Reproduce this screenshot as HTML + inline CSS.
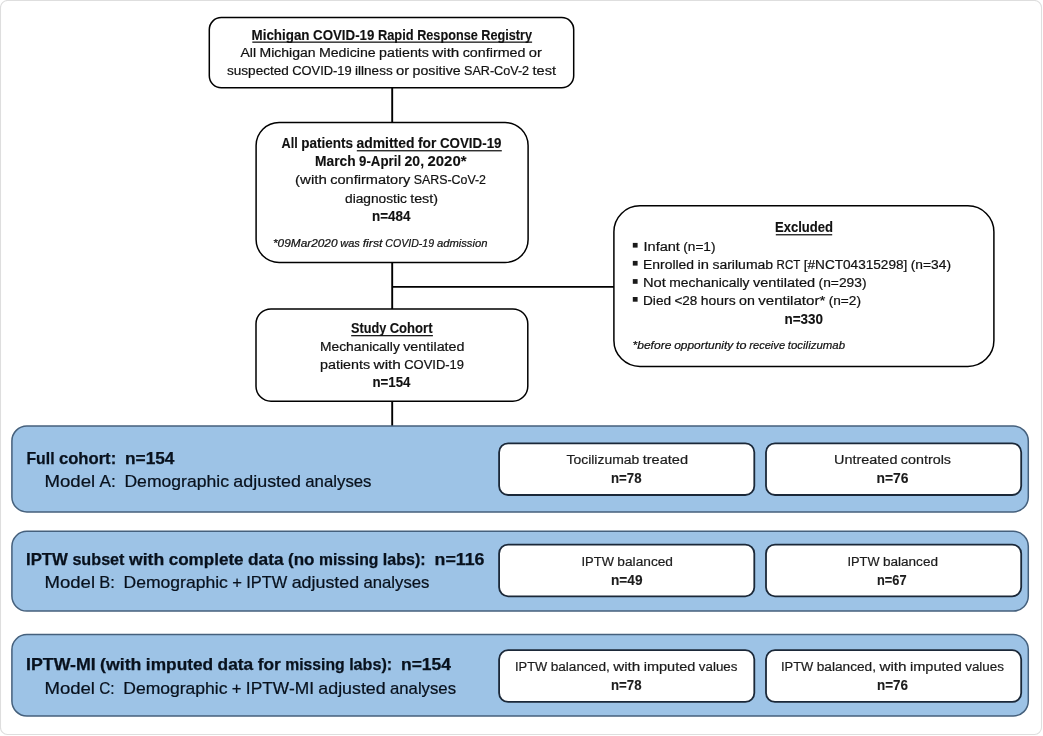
<!DOCTYPE html>
<html><head><meta charset="utf-8"><title>Flow diagram</title>
<style>
html,body{margin:0;padding:0;background:#fff;width:1043px;height:736px;overflow:hidden}
svg{display:block;will-change:transform;font-family:"Liberation Sans",sans-serif}
</style></head><body>
<svg width="1043" height="736" viewBox="0 0 1043 736">
<rect x="0.5" y="0.5" width="1041" height="734" rx="7" fill="#fff" stroke="#dedede" stroke-width="1.1"/>
<g stroke="#000" stroke-width="1.9" fill="none">
<line x1="392.2" y1="88" x2="392.2" y2="122.5"/>
<line x1="392.2" y1="262.5" x2="392.2" y2="309"/>
<line x1="392.2" y1="286.9" x2="614" y2="286.9" stroke-width="1.6"/>
<line x1="392.2" y1="401" x2="392.2" y2="426"/>
</g>
<g stroke="#000" stroke-width="1.5" fill="#fff">
<rect x="209.3" y="17.6" width="364.4" height="70.2" rx="12"/>
<rect x="256.1" y="122.5" width="272" height="140" rx="23"/>
<rect x="613.9" y="205.8" width="380" height="160.6" rx="26"/>
<rect x="256" y="308.9" width="271.8" height="92.3" rx="15"/>
</g>
<g stroke="#45607c" stroke-width="1.5" fill="#9dc3e6">
<rect x="11.9" y="426" width="1016.4" height="85.9" rx="15"/>
<rect x="11.9" y="531.3" width="1016.4" height="79.8" rx="15"/>
<rect x="11.9" y="634.6" width="1016.4" height="81.4" rx="15"/>
</g>
<g stroke="#1b2838" stroke-width="1.8" fill="#fff">
<rect x="499.1" y="443.3" width="255.2" height="51.7" rx="9"/>
<rect x="766" y="443.3" width="255.2" height="51.7" rx="9"/>
<rect x="499.1" y="544.6" width="255.2" height="51.7" rx="9"/>
<rect x="766" y="544.6" width="255.2" height="51.7" rx="9"/>
<rect x="499.1" y="650.2" width="255.2" height="51.7" rx="9"/>
<rect x="766" y="650.2" width="255.2" height="51.7" rx="9"/>
</g>
<g fill="#1a1a1a">
<rect x="252.3" y="41.5" width="279.8" height="1.3"/>
<rect x="356.8" y="150.1" width="145" height="1.3"/>
<rect x="775.8" y="234.1" width="56.4" height="1.3"/>
<rect x="351.2" y="335" width="81.7" height="1.3"/>
<rect x="632.8" y="242.9" width="4.8" height="4.7"/>
<rect x="632.8" y="260.9" width="4.8" height="4.7"/>
<rect x="632.8" y="279.1" width="4.8" height="4.7"/>
<rect x="632.8" y="297" width="4.8" height="4.7"/>
</g>
<text x="251.50" y="39.50" font-size="14.1" font-weight="bold" font-style="normal" fill="#111" stroke="#111" stroke-width="0.12" textLength="58.05" lengthAdjust="spacingAndGlyphs">Michigan</text>
<text x="313.06" y="39.50" font-size="14.1" font-weight="bold" font-style="normal" fill="#111" stroke="#111" stroke-width="0.12" textLength="61.34" lengthAdjust="spacingAndGlyphs">COVID-19</text>
<text x="377.91" y="39.50" font-size="14.1" font-weight="bold" font-style="normal" fill="#111" stroke="#111" stroke-width="0.12" textLength="35.76" lengthAdjust="spacingAndGlyphs">Rapid</text>
<text x="417.18" y="39.50" font-size="14.1" font-weight="bold" font-style="normal" fill="#111" stroke="#111" stroke-width="0.12" textLength="60.55" lengthAdjust="spacingAndGlyphs">Response</text>
<text x="481.24" y="39.50" font-size="14.1" font-weight="bold" font-style="normal" fill="#111" stroke="#111" stroke-width="0.12" textLength="50.76" lengthAdjust="spacingAndGlyphs">Registry</text>
<text x="240.50" y="57.20" font-size="13.7" font-weight="normal" font-style="normal" fill="#111" stroke="#111" stroke-width="0.22" textLength="15.57" lengthAdjust="spacingAndGlyphs">All</text>
<text x="259.46" y="57.20" font-size="13.7" font-weight="normal" font-style="normal" fill="#111" stroke="#111" stroke-width="0.22" textLength="56.08" lengthAdjust="spacingAndGlyphs">Michigan</text>
<text x="318.93" y="57.20" font-size="13.7" font-weight="normal" font-style="normal" fill="#111" stroke="#111" stroke-width="0.22" textLength="56.76" lengthAdjust="spacingAndGlyphs">Medicine</text>
<text x="379.08" y="57.20" font-size="13.7" font-weight="normal" font-style="normal" fill="#111" stroke="#111" stroke-width="0.22" textLength="49.78" lengthAdjust="spacingAndGlyphs">patients</text>
<text x="432.26" y="57.20" font-size="13.7" font-weight="normal" font-style="normal" fill="#111" stroke="#111" stroke-width="0.22" textLength="27.08" lengthAdjust="spacingAndGlyphs">with</text>
<text x="462.73" y="57.20" font-size="13.7" font-weight="normal" font-style="normal" fill="#111" stroke="#111" stroke-width="0.22" textLength="62.73" lengthAdjust="spacingAndGlyphs">confirmed</text>
<text x="528.86" y="57.20" font-size="13.7" font-weight="normal" font-style="normal" fill="#111" stroke="#111" stroke-width="0.22" textLength="13.14" lengthAdjust="spacingAndGlyphs">or</text>
<text x="227.00" y="75.20" font-size="13.7" font-weight="normal" font-style="normal" fill="#111" stroke="#111" stroke-width="0.22" textLength="61.87" lengthAdjust="spacingAndGlyphs">suspected</text>
<text x="292.28" y="75.20" font-size="13.7" font-weight="normal" font-style="normal" fill="#111" stroke="#111" stroke-width="0.22" textLength="59.44" lengthAdjust="spacingAndGlyphs">COVID-19</text>
<text x="355.12" y="75.20" font-size="13.7" font-weight="normal" font-style="normal" fill="#111" stroke="#111" stroke-width="0.22" textLength="37.53" lengthAdjust="spacingAndGlyphs">illness</text>
<text x="396.05" y="75.20" font-size="13.7" font-weight="normal" font-style="normal" fill="#111" stroke="#111" stroke-width="0.22" textLength="13.18" lengthAdjust="spacingAndGlyphs">or</text>
<text x="412.64" y="75.20" font-size="13.7" font-weight="normal" font-style="normal" fill="#111" stroke="#111" stroke-width="0.22" textLength="47.96" lengthAdjust="spacingAndGlyphs">positive</text>
<text x="464.00" y="75.20" font-size="13.7" font-weight="normal" font-style="normal" fill="#111" stroke="#111" stroke-width="0.22" textLength="65.14" lengthAdjust="spacingAndGlyphs">SAR-CoV-2</text>
<text x="532.54" y="75.20" font-size="13.7" font-weight="normal" font-style="normal" fill="#111" stroke="#111" stroke-width="0.22" textLength="23.46" lengthAdjust="spacingAndGlyphs">test</text>
<text x="281.50" y="147.90" font-size="14.1" font-weight="bold" font-style="normal" fill="#111" stroke="#111" stroke-width="0.12" textLength="16.17" lengthAdjust="spacingAndGlyphs">All</text>
<text x="301.19" y="147.90" font-size="14.1" font-weight="bold" font-style="normal" fill="#111" stroke="#111" stroke-width="0.12" textLength="51.71" lengthAdjust="spacingAndGlyphs">patients</text>
<text x="356.43" y="147.90" font-size="14.1" font-weight="bold" font-style="normal" fill="#111" stroke="#111" stroke-width="0.12" textLength="58.06" lengthAdjust="spacingAndGlyphs">admitted</text>
<text x="418.01" y="147.90" font-size="14.1" font-weight="bold" font-style="normal" fill="#111" stroke="#111" stroke-width="0.12" textLength="18.41" lengthAdjust="spacingAndGlyphs">for</text>
<text x="439.94" y="147.90" font-size="14.1" font-weight="bold" font-style="normal" fill="#111" stroke="#111" stroke-width="0.12" textLength="61.56" lengthAdjust="spacingAndGlyphs">COVID-19</text>
<text x="315.00" y="166.40" font-size="14.1" font-weight="bold" font-style="normal" fill="#111" stroke="#111" stroke-width="0.12" textLength="40.58" lengthAdjust="spacingAndGlyphs">March</text>
<text x="359.07" y="166.40" font-size="14.1" font-weight="bold" font-style="normal" fill="#111" stroke="#111" stroke-width="0.12" textLength="42.03" lengthAdjust="spacingAndGlyphs">9-April</text>
<text x="404.58" y="166.40" font-size="14.1" font-weight="bold" font-style="normal" fill="#111" stroke="#111" stroke-width="0.12" textLength="19.48" lengthAdjust="spacingAndGlyphs">20,</text>
<text x="427.55" y="166.40" font-size="14.1" font-weight="bold" font-style="normal" fill="#111" stroke="#111" stroke-width="0.12" textLength="38.95" lengthAdjust="spacingAndGlyphs">2020*</text>
<text x="295.00" y="183.90" font-size="13.7" font-weight="normal" font-style="normal" fill="#111" stroke="#111" stroke-width="0.22" textLength="31.83" lengthAdjust="spacingAndGlyphs">(with</text>
<text x="330.25" y="183.90" font-size="13.7" font-weight="normal" font-style="normal" fill="#111" stroke="#111" stroke-width="0.22" textLength="80.04" lengthAdjust="spacingAndGlyphs">confirmatory</text>
<text x="413.70" y="183.90" font-size="13.7" font-weight="normal" font-style="normal" fill="#111" stroke="#111" stroke-width="0.22" textLength="72.30" lengthAdjust="spacingAndGlyphs">SARS-CoV-2</text>
<text x="345.00" y="202.50" font-size="13.7" font-weight="normal" font-style="normal" fill="#111" stroke="#111" stroke-width="0.22" textLength="61.80" lengthAdjust="spacingAndGlyphs">diagnostic</text>
<text x="410.18" y="202.50" font-size="13.7" font-weight="normal" font-style="normal" fill="#111" stroke="#111" stroke-width="0.22" textLength="27.82" lengthAdjust="spacingAndGlyphs">test)</text>
<text x="372.00" y="220.90" font-size="14.1" font-weight="bold" font-style="normal" fill="#111" stroke="#111" stroke-width="0.12" textLength="38.50" lengthAdjust="spacingAndGlyphs">n=484</text>
<text x="273.00" y="246.70" font-size="11.5" font-weight="normal" font-style="italic" fill="#111" stroke="#111" stroke-width="0.22" textLength="64.49" lengthAdjust="spacingAndGlyphs">*09Mar2020</text>
<text x="340.28" y="246.70" font-size="11.5" font-weight="normal" font-style="italic" fill="#111" stroke="#111" stroke-width="0.22" textLength="19.58" lengthAdjust="spacingAndGlyphs">was</text>
<text x="362.65" y="246.70" font-size="11.5" font-weight="normal" font-style="italic" fill="#111" stroke="#111" stroke-width="0.22" textLength="19.88" lengthAdjust="spacingAndGlyphs">first</text>
<text x="385.32" y="246.70" font-size="11.5" font-weight="normal" font-style="italic" fill="#111" stroke="#111" stroke-width="0.22" textLength="48.78" lengthAdjust="spacingAndGlyphs">COVID-19</text>
<text x="436.89" y="246.70" font-size="11.5" font-weight="normal" font-style="italic" fill="#111" stroke="#111" stroke-width="0.22" textLength="50.61" lengthAdjust="spacingAndGlyphs">admission</text>
<text x="775.00" y="232.10" font-size="14.1" font-weight="bold" font-style="normal" fill="#111" stroke="#111" stroke-width="0.12" textLength="58.00" lengthAdjust="spacingAndGlyphs">Excluded</text>
<text x="643.50" y="250.70" font-size="13.7" font-weight="normal" font-style="normal" fill="#111" stroke="#111" stroke-width="0.22" textLength="36.38" lengthAdjust="spacingAndGlyphs">Infant</text>
<text x="683.27" y="250.70" font-size="13.7" font-weight="normal" font-style="normal" fill="#111" stroke="#111" stroke-width="0.22" textLength="32.23" lengthAdjust="spacingAndGlyphs">(n=1)</text>
<text x="643.00" y="268.50" font-size="13.7" font-weight="normal" font-style="normal" fill="#111" stroke="#111" stroke-width="0.22" textLength="51.12" lengthAdjust="spacingAndGlyphs">Enrolled</text>
<text x="697.55" y="268.50" font-size="13.7" font-weight="normal" font-style="normal" fill="#111" stroke="#111" stroke-width="0.22" textLength="11.45" lengthAdjust="spacingAndGlyphs">in</text>
<text x="712.42" y="268.50" font-size="13.7" font-weight="normal" font-style="normal" fill="#111" stroke="#111" stroke-width="0.22" textLength="60.75" lengthAdjust="spacingAndGlyphs">sarilumab</text>
<text x="776.60" y="268.50" font-size="13.7" font-weight="normal" font-style="normal" fill="#111" stroke="#111" stroke-width="0.22" textLength="23.71" lengthAdjust="spacingAndGlyphs">RCT</text>
<text x="803.73" y="268.50" font-size="13.7" font-weight="normal" font-style="normal" fill="#111" stroke="#111" stroke-width="0.22" textLength="103.62" lengthAdjust="spacingAndGlyphs">[#NCT04315298]</text>
<text x="910.78" y="268.50" font-size="13.7" font-weight="normal" font-style="normal" fill="#111" stroke="#111" stroke-width="0.22" textLength="40.22" lengthAdjust="spacingAndGlyphs">(n=34)</text>
<text x="643.00" y="286.70" font-size="13.7" font-weight="normal" font-style="normal" fill="#111" stroke="#111" stroke-width="0.22" textLength="22.86" lengthAdjust="spacingAndGlyphs">Not</text>
<text x="669.29" y="286.70" font-size="13.7" font-weight="normal" font-style="normal" fill="#111" stroke="#111" stroke-width="0.22" textLength="80.23" lengthAdjust="spacingAndGlyphs">mechanically</text>
<text x="752.94" y="286.70" font-size="13.7" font-weight="normal" font-style="normal" fill="#111" stroke="#111" stroke-width="0.22" textLength="62.24" lengthAdjust="spacingAndGlyphs">ventilated</text>
<text x="818.61" y="286.70" font-size="13.7" font-weight="normal" font-style="normal" fill="#111" stroke="#111" stroke-width="0.22" textLength="47.89" lengthAdjust="spacingAndGlyphs">(n=293)</text>
<text x="643.00" y="304.70" font-size="13.7" font-weight="normal" font-style="normal" fill="#111" stroke="#111" stroke-width="0.22" textLength="28.10" lengthAdjust="spacingAndGlyphs">Died</text>
<text x="674.50" y="304.70" font-size="13.7" font-weight="normal" font-style="normal" fill="#111" stroke="#111" stroke-width="0.22" textLength="22.87" lengthAdjust="spacingAndGlyphs">&lt;28</text>
<text x="700.77" y="304.70" font-size="13.7" font-weight="normal" font-style="normal" fill="#111" stroke="#111" stroke-width="0.22" textLength="34.87" lengthAdjust="spacingAndGlyphs">hours</text>
<text x="739.05" y="304.70" font-size="13.7" font-weight="normal" font-style="normal" fill="#111" stroke="#111" stroke-width="0.22" textLength="15.84" lengthAdjust="spacingAndGlyphs">on</text>
<text x="758.28" y="304.70" font-size="13.7" font-weight="normal" font-style="normal" fill="#111" stroke="#111" stroke-width="0.22" textLength="67.04" lengthAdjust="spacingAndGlyphs">ventilator*</text>
<text x="828.72" y="304.70" font-size="13.7" font-weight="normal" font-style="normal" fill="#111" stroke="#111" stroke-width="0.22" textLength="32.28" lengthAdjust="spacingAndGlyphs">(n=2)</text>
<text x="784.50" y="323.70" font-size="14.1" font-weight="bold" font-style="normal" fill="#111" stroke="#111" stroke-width="0.12" textLength="38.50" lengthAdjust="spacingAndGlyphs">n=330</text>
<text x="632.50" y="349.30" font-size="11.5" font-weight="normal" font-style="italic" fill="#111" stroke="#111" stroke-width="0.22" textLength="38.92" lengthAdjust="spacingAndGlyphs">*before</text>
<text x="674.18" y="349.30" font-size="11.5" font-weight="normal" font-style="italic" fill="#111" stroke="#111" stroke-width="0.22" textLength="59.09" lengthAdjust="spacingAndGlyphs">opportunity</text>
<text x="736.02" y="349.30" font-size="11.5" font-weight="normal" font-style="italic" fill="#111" stroke="#111" stroke-width="0.22" textLength="10.49" lengthAdjust="spacingAndGlyphs">to</text>
<text x="749.26" y="349.30" font-size="11.5" font-weight="normal" font-style="italic" fill="#111" stroke="#111" stroke-width="0.22" textLength="35.84" lengthAdjust="spacingAndGlyphs">receive</text>
<text x="787.85" y="349.30" font-size="11.5" font-weight="normal" font-style="italic" fill="#111" stroke="#111" stroke-width="0.22" textLength="57.15" lengthAdjust="spacingAndGlyphs">tocilizumab</text>
<text x="351.00" y="332.60" font-size="14.1" font-weight="bold" font-style="normal" fill="#111" stroke="#111" stroke-width="0.12" textLength="35.20" lengthAdjust="spacingAndGlyphs">Study</text>
<text x="389.66" y="332.60" font-size="14.1" font-weight="bold" font-style="normal" fill="#111" stroke="#111" stroke-width="0.12" textLength="42.84" lengthAdjust="spacingAndGlyphs">Cohort</text>
<text x="320.00" y="351.00" font-size="13.7" font-weight="normal" font-style="normal" fill="#111" stroke="#111" stroke-width="0.22" textLength="79.84" lengthAdjust="spacingAndGlyphs">Mechanically</text>
<text x="403.21" y="351.00" font-size="13.7" font-weight="normal" font-style="normal" fill="#111" stroke="#111" stroke-width="0.22" textLength="61.29" lengthAdjust="spacingAndGlyphs">ventilated</text>
<text x="320.00" y="368.80" font-size="13.7" font-weight="normal" font-style="normal" fill="#111" stroke="#111" stroke-width="0.22" textLength="50.16" lengthAdjust="spacingAndGlyphs">patients</text>
<text x="373.58" y="368.80" font-size="13.7" font-weight="normal" font-style="normal" fill="#111" stroke="#111" stroke-width="0.22" textLength="27.29" lengthAdjust="spacingAndGlyphs">with</text>
<text x="404.28" y="368.80" font-size="13.7" font-weight="normal" font-style="normal" fill="#111" stroke="#111" stroke-width="0.22" textLength="59.72" lengthAdjust="spacingAndGlyphs">COVID-19</text>
<text x="372.50" y="387.40" font-size="14.1" font-weight="bold" font-style="normal" fill="#111" stroke="#111" stroke-width="0.12" textLength="38.00" lengthAdjust="spacingAndGlyphs">n=154</text>
<text x="26.50" y="463.70" font-size="16.6" font-weight="bold" font-style="normal" fill="#08111d" stroke="#08111d" stroke-width="0.25" textLength="28.01" lengthAdjust="spacingAndGlyphs">Full</text>
<text x="58.90" y="463.70" font-size="16.6" font-weight="bold" font-style="normal" fill="#08111d" stroke="#08111d" stroke-width="0.25" textLength="57.31" lengthAdjust="spacingAndGlyphs">cohort:</text>
<text x="124.98" y="463.70" font-size="16.6" font-weight="bold" font-style="normal" fill="#08111d" stroke="#08111d" stroke-width="0.25" textLength="49.52" lengthAdjust="spacingAndGlyphs">n=154</text>
<text x="44.50" y="486.60" font-size="16.2" font-weight="normal" font-style="normal" fill="#08111d" stroke="#08111d" stroke-width="0.22" textLength="50.64" lengthAdjust="spacingAndGlyphs">Model</text>
<text x="99.48" y="486.60" font-size="16.2" font-weight="normal" font-style="normal" fill="#08111d" stroke="#08111d" stroke-width="0.22" textLength="16.26" lengthAdjust="spacingAndGlyphs">A:</text>
<text x="124.43" y="486.60" font-size="16.2" font-weight="normal" font-style="normal" fill="#08111d" stroke="#08111d" stroke-width="0.22" textLength="104.56" lengthAdjust="spacingAndGlyphs">Demographic</text>
<text x="233.33" y="486.60" font-size="16.2" font-weight="normal" font-style="normal" fill="#08111d" stroke="#08111d" stroke-width="0.22" textLength="67.61" lengthAdjust="spacingAndGlyphs">adjusted</text>
<text x="305.29" y="486.60" font-size="16.2" font-weight="normal" font-style="normal" fill="#08111d" stroke="#08111d" stroke-width="0.22" textLength="66.21" lengthAdjust="spacingAndGlyphs">analyses</text>
<text x="26.00" y="564.80" font-size="16.6" font-weight="bold" font-style="normal" fill="#08111d" stroke="#08111d" stroke-width="0.25" textLength="41.96" lengthAdjust="spacingAndGlyphs">IPTW</text>
<text x="72.38" y="564.80" font-size="16.6" font-weight="bold" font-style="normal" fill="#08111d" stroke="#08111d" stroke-width="0.25" textLength="52.13" lengthAdjust="spacingAndGlyphs">subset</text>
<text x="128.94" y="564.80" font-size="16.6" font-weight="bold" font-style="normal" fill="#08111d" stroke="#08111d" stroke-width="0.25" textLength="35.30" lengthAdjust="spacingAndGlyphs">with</text>
<text x="168.65" y="564.80" font-size="16.6" font-weight="bold" font-style="normal" fill="#08111d" stroke="#08111d" stroke-width="0.25" textLength="74.98" lengthAdjust="spacingAndGlyphs">complete</text>
<text x="248.06" y="564.80" font-size="16.6" font-weight="bold" font-style="normal" fill="#08111d" stroke="#08111d" stroke-width="0.25" textLength="35.56" lengthAdjust="spacingAndGlyphs">data</text>
<text x="288.04" y="564.80" font-size="16.6" font-weight="bold" font-style="normal" fill="#08111d" stroke="#08111d" stroke-width="0.25" textLength="26.52" lengthAdjust="spacingAndGlyphs">(no</text>
<text x="318.98" y="564.80" font-size="16.6" font-weight="bold" font-style="normal" fill="#08111d" stroke="#08111d" stroke-width="0.25" textLength="59.38" lengthAdjust="spacingAndGlyphs">missing</text>
<text x="382.79" y="564.80" font-size="16.6" font-weight="bold" font-style="normal" fill="#08111d" stroke="#08111d" stroke-width="0.25" textLength="42.94" lengthAdjust="spacingAndGlyphs">labs):</text>
<text x="434.57" y="564.80" font-size="16.6" font-weight="bold" font-style="normal" fill="#08111d" stroke="#08111d" stroke-width="0.25" textLength="49.93" lengthAdjust="spacingAndGlyphs">n=116</text>
<text x="44.50" y="587.80" font-size="16.2" font-weight="normal" font-style="normal" fill="#08111d" stroke="#08111d" stroke-width="0.22" textLength="50.50" lengthAdjust="spacingAndGlyphs">Model</text>
<text x="99.34" y="587.80" font-size="16.2" font-weight="normal" font-style="normal" fill="#08111d" stroke="#08111d" stroke-width="0.22" textLength="15.56" lengthAdjust="spacingAndGlyphs">B:</text>
<text x="123.56" y="587.80" font-size="16.2" font-weight="normal" font-style="normal" fill="#08111d" stroke="#08111d" stroke-width="0.22" textLength="104.29" lengthAdjust="spacingAndGlyphs">Demographic</text>
<text x="232.18" y="587.80" font-size="16.2" font-weight="normal" font-style="normal" fill="#08111d" stroke="#08111d" stroke-width="0.22" textLength="9.72" lengthAdjust="spacingAndGlyphs">+</text>
<text x="246.23" y="587.80" font-size="16.2" font-weight="normal" font-style="normal" fill="#08111d" stroke="#08111d" stroke-width="0.22" textLength="41.13" lengthAdjust="spacingAndGlyphs">IPTW</text>
<text x="291.69" y="587.80" font-size="16.2" font-weight="normal" font-style="normal" fill="#08111d" stroke="#08111d" stroke-width="0.22" textLength="67.44" lengthAdjust="spacingAndGlyphs">adjusted</text>
<text x="363.46" y="587.80" font-size="16.2" font-weight="normal" font-style="normal" fill="#08111d" stroke="#08111d" stroke-width="0.22" textLength="66.04" lengthAdjust="spacingAndGlyphs">analyses</text>
<text x="26.00" y="670.40" font-size="16.6" font-weight="bold" font-style="normal" fill="#08111d" stroke="#08111d" stroke-width="0.25" textLength="69.71" lengthAdjust="spacingAndGlyphs">IPTW-MI</text>
<text x="100.14" y="670.40" font-size="16.6" font-weight="bold" font-style="normal" fill="#08111d" stroke="#08111d" stroke-width="0.25" textLength="41.29" lengthAdjust="spacingAndGlyphs">(with</text>
<text x="145.86" y="670.40" font-size="16.6" font-weight="bold" font-style="normal" fill="#08111d" stroke="#08111d" stroke-width="0.25" textLength="67.33" lengthAdjust="spacingAndGlyphs">imputed</text>
<text x="217.61" y="670.40" font-size="16.6" font-weight="bold" font-style="normal" fill="#08111d" stroke="#08111d" stroke-width="0.25" textLength="35.62" lengthAdjust="spacingAndGlyphs">data</text>
<text x="257.66" y="670.40" font-size="16.6" font-weight="bold" font-style="normal" fill="#08111d" stroke="#08111d" stroke-width="0.25" textLength="23.14" lengthAdjust="spacingAndGlyphs">for</text>
<text x="285.22" y="670.40" font-size="16.6" font-weight="bold" font-style="normal" fill="#08111d" stroke="#08111d" stroke-width="0.25" textLength="59.47" lengthAdjust="spacingAndGlyphs">missing</text>
<text x="349.13" y="670.40" font-size="16.6" font-weight="bold" font-style="normal" fill="#08111d" stroke="#08111d" stroke-width="0.25" textLength="43.01" lengthAdjust="spacingAndGlyphs">labs):</text>
<text x="401.00" y="670.40" font-size="16.6" font-weight="bold" font-style="normal" fill="#08111d" stroke="#08111d" stroke-width="0.25" textLength="50.00" lengthAdjust="spacingAndGlyphs">n=154</text>
<text x="44.50" y="693.50" font-size="16.2" font-weight="normal" font-style="normal" fill="#08111d" stroke="#08111d" stroke-width="0.22" textLength="50.46" lengthAdjust="spacingAndGlyphs">Model</text>
<text x="99.29" y="693.50" font-size="16.2" font-weight="normal" font-style="normal" fill="#08111d" stroke="#08111d" stroke-width="0.22" textLength="15.34" lengthAdjust="spacingAndGlyphs">C:</text>
<text x="123.28" y="693.50" font-size="16.2" font-weight="normal" font-style="normal" fill="#08111d" stroke="#08111d" stroke-width="0.22" textLength="104.19" lengthAdjust="spacingAndGlyphs">Demographic</text>
<text x="231.80" y="693.50" font-size="16.2" font-weight="normal" font-style="normal" fill="#08111d" stroke="#08111d" stroke-width="0.22" textLength="9.71" lengthAdjust="spacingAndGlyphs">+</text>
<text x="245.84" y="693.50" font-size="16.2" font-weight="normal" font-style="normal" fill="#08111d" stroke="#08111d" stroke-width="0.22" textLength="68.15" lengthAdjust="spacingAndGlyphs">IPTW-MI</text>
<text x="318.32" y="693.50" font-size="16.2" font-weight="normal" font-style="normal" fill="#08111d" stroke="#08111d" stroke-width="0.22" textLength="67.37" lengthAdjust="spacingAndGlyphs">adjusted</text>
<text x="390.02" y="693.50" font-size="16.2" font-weight="normal" font-style="normal" fill="#08111d" stroke="#08111d" stroke-width="0.22" textLength="65.98" lengthAdjust="spacingAndGlyphs">analyses</text>
<text x="566.50" y="464.30" font-size="13.7" font-weight="normal" font-style="normal" fill="#1c1c1c" stroke="#1c1c1c" stroke-width="0.22" textLength="72.80" lengthAdjust="spacingAndGlyphs">Tocilizumab</text>
<text x="642.69" y="464.30" font-size="13.7" font-weight="normal" font-style="normal" fill="#1c1c1c" stroke="#1c1c1c" stroke-width="0.22" textLength="45.31" lengthAdjust="spacingAndGlyphs">treated</text>
<text x="611.00" y="483.00" font-size="14.1" font-weight="bold" font-style="normal" fill="#1c1c1c" stroke="#1c1c1c" stroke-width="0.12" textLength="30.50" lengthAdjust="spacingAndGlyphs">n=78</text>
<text x="834.00" y="464.30" font-size="13.7" font-weight="normal" font-style="normal" fill="#1c1c1c" stroke="#1c1c1c" stroke-width="0.22" textLength="63.44" lengthAdjust="spacingAndGlyphs">Untreated</text>
<text x="900.87" y="464.30" font-size="13.7" font-weight="normal" font-style="normal" fill="#1c1c1c" stroke="#1c1c1c" stroke-width="0.22" textLength="50.13" lengthAdjust="spacingAndGlyphs">controls</text>
<text x="876.50" y="483.00" font-size="14.1" font-weight="bold" font-style="normal" fill="#1c1c1c" stroke="#1c1c1c" stroke-width="0.12" textLength="32.00" lengthAdjust="spacingAndGlyphs">n=76</text>
<text x="581.50" y="566.00" font-size="13.7" font-weight="normal" font-style="normal" fill="#1c1c1c" stroke="#1c1c1c" stroke-width="0.22" textLength="32.42" lengthAdjust="spacingAndGlyphs">IPTW</text>
<text x="617.33" y="566.00" font-size="13.7" font-weight="normal" font-style="normal" fill="#1c1c1c" stroke="#1c1c1c" stroke-width="0.22" textLength="55.67" lengthAdjust="spacingAndGlyphs">balanced</text>
<text x="611.00" y="584.80" font-size="14.1" font-weight="bold" font-style="normal" fill="#1c1c1c" stroke="#1c1c1c" stroke-width="0.12" textLength="31.50" lengthAdjust="spacingAndGlyphs">n=49</text>
<text x="847.50" y="566.00" font-size="13.7" font-weight="normal" font-style="normal" fill="#1c1c1c" stroke="#1c1c1c" stroke-width="0.22" textLength="32.06" lengthAdjust="spacingAndGlyphs">IPTW</text>
<text x="882.94" y="566.00" font-size="13.7" font-weight="normal" font-style="normal" fill="#1c1c1c" stroke="#1c1c1c" stroke-width="0.22" textLength="55.06" lengthAdjust="spacingAndGlyphs">balanced</text>
<text x="877.00" y="584.80" font-size="14.1" font-weight="bold" font-style="normal" fill="#1c1c1c" stroke="#1c1c1c" stroke-width="0.12" textLength="29.50" lengthAdjust="spacingAndGlyphs">n=67</text>
<text x="515.00" y="671.00" font-size="13.7" font-weight="normal" font-style="normal" fill="#1c1c1c" stroke="#1c1c1c" stroke-width="0.22" textLength="32.26" lengthAdjust="spacingAndGlyphs">IPTW</text>
<text x="550.66" y="671.00" font-size="13.7" font-weight="normal" font-style="normal" fill="#1c1c1c" stroke="#1c1c1c" stroke-width="0.22" textLength="59.14" lengthAdjust="spacingAndGlyphs">balanced,</text>
<text x="613.19" y="671.00" font-size="13.7" font-weight="normal" font-style="normal" fill="#1c1c1c" stroke="#1c1c1c" stroke-width="0.22" textLength="27.13" lengthAdjust="spacingAndGlyphs">with</text>
<text x="643.73" y="671.00" font-size="13.7" font-weight="normal" font-style="normal" fill="#1c1c1c" stroke="#1c1c1c" stroke-width="0.22" textLength="51.67" lengthAdjust="spacingAndGlyphs">imputed</text>
<text x="698.80" y="671.00" font-size="13.7" font-weight="normal" font-style="normal" fill="#1c1c1c" stroke="#1c1c1c" stroke-width="0.22" textLength="38.70" lengthAdjust="spacingAndGlyphs">values</text>
<text x="611.00" y="689.60" font-size="14.1" font-weight="bold" font-style="normal" fill="#1c1c1c" stroke="#1c1c1c" stroke-width="0.12" textLength="30.50" lengthAdjust="spacingAndGlyphs">n=78</text>
<text x="781.00" y="671.00" font-size="13.7" font-weight="normal" font-style="normal" fill="#1c1c1c" stroke="#1c1c1c" stroke-width="0.22" textLength="32.33" lengthAdjust="spacingAndGlyphs">IPTW</text>
<text x="816.74" y="671.00" font-size="13.7" font-weight="normal" font-style="normal" fill="#1c1c1c" stroke="#1c1c1c" stroke-width="0.22" textLength="59.27" lengthAdjust="spacingAndGlyphs">balanced,</text>
<text x="879.41" y="671.00" font-size="13.7" font-weight="normal" font-style="normal" fill="#1c1c1c" stroke="#1c1c1c" stroke-width="0.22" textLength="27.19" lengthAdjust="spacingAndGlyphs">with</text>
<text x="910.01" y="671.00" font-size="13.7" font-weight="normal" font-style="normal" fill="#1c1c1c" stroke="#1c1c1c" stroke-width="0.22" textLength="51.79" lengthAdjust="spacingAndGlyphs">imputed</text>
<text x="965.21" y="671.00" font-size="13.7" font-weight="normal" font-style="normal" fill="#1c1c1c" stroke="#1c1c1c" stroke-width="0.22" textLength="38.79" lengthAdjust="spacingAndGlyphs">values</text>
<text x="877.00" y="689.60" font-size="14.1" font-weight="bold" font-style="normal" fill="#1c1c1c" stroke="#1c1c1c" stroke-width="0.12" textLength="31.00" lengthAdjust="spacingAndGlyphs">n=76</text>
</svg>
</body></html>
